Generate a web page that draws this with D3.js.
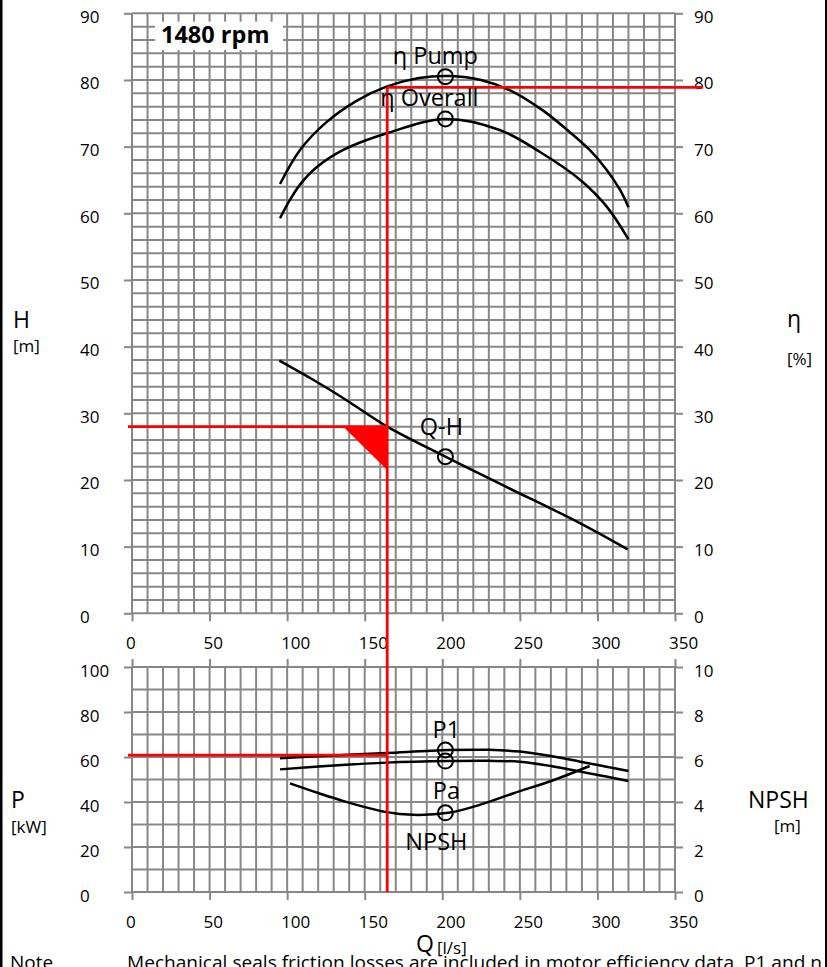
<!DOCTYPE html>
<html>
<head>
<meta charset="utf-8">
<script src="https://cdn.jsdelivr.net/npm/d3@7"></script>
<style>
  body { margin: 0; background: #fff; }
  svg { display: block; font-family: "Open Sans", sans-serif; }
</style>
</head>
<body>
<div id="chart"></div>
<script>
// Pump curves, flow Q in l/s
const qhCurve = [[95, 37.9], [117, 35.0], [127, 33.6], [140, 31.7], [164.5, 28.0], [202, 23.5], [240, 19.1], [289, 13.5], [319.5, 9.6]];
const etaPump = [[95.4, 64.4], [108.3, 69.5], [125, 73.6], [145, 76.9], [164, 79.0], [185, 80.3], [205, 80.6], [225, 80.0], [245, 78.3], [265, 75.4], [280, 72.6], [295, 69.5], [306, 66.5], [314.6, 63.5], [320, 60.9]];
const etaOverall = [[95.4, 59.25], [101.8, 62.0], [108.3, 64.3], [119, 66.9], [136.2, 69.5], [164.2, 72.0], [202, 74.15], [237, 72.5], [263, 69.2], [289, 65.0], [306, 61.0], [320, 56.1]];
const p1Curve = [[95.4, 59.4], [130, 60.7], [164, 61.8], [204, 63.1], [230, 63.2], [250, 62.4], [270, 60.4], [289, 57.9], [305, 55.8], [320, 53.8]];
const paCurve = [[95.4, 54.5], [130, 56.2], [164, 57.5], [204, 58.2], [230, 58.3], [250, 57.9], [270, 56.0], [289, 53.5], [305, 51.4], [320, 49.3]];
const npshCurve = [[101.8, 4.83], [120, 4.4], [134, 4.09], [164, 3.55], [181, 3.43], [204, 3.52], [224, 3.87], [246, 4.39], [272, 4.98], [295, 5.6]];

// best efficiency point markers
const markerQ = 202;
const markerLabels = ["η Pump", "η Overall", "Q-H", "P1", "Pa", "NPSH"];
const markerValues = [80.5, 74.15, 23.5, 63.1, 58.2, 3.52];

// duty point (red lines)
const dutyQ = 164.5, dutyH = 28, dutyEta = 78.9, dutyP = 60.8;
const dutyTriangle = [[136.2, 28], [164.5, 28], [164.5, 21.5]];

// tick labels
const qTicks = [0, 50, 100, 150, 200, 250, 300, 350];
const hTicks = [0, 10, 20, 30, 40, 50, 60, 70, 80, 90];
const pTicks = [0, 20, 40, 60, 80, 100];
const npshTicks = [0, 2, 4, 6, 8, 10];

const width = 827, height = 967;
const gridColor = "#878787";

const svg = d3.select("#chart").append("svg")
  .attr("width", width)
  .attr("height", height);

svg.append("rect").attr("width", width).attr("height", height).attr("fill", "#fff");

// scales
const x = d3.scaleLinear().domain([0, 350]).range([132, 675]);
const yH = d3.scaleLinear().domain([0, 90]).range([613.3, 13.3]);
const yP = d3.scaleLinear().domain([0, 100]).range([892, 667]);
const yN = d3.scaleLinear().domain([0, 10]).range([892, 667]);

// grid for one panel
function drawGrid(yScale, step) {
  const [y0, y1] = yScale.domain();
  const g = svg.append("g").attr("stroke", gridColor).attr("stroke-width", 2);
  g.selectAll(".v").data(d3.range(0, 351, 10)).join("line")
    .attr("x1", d => x(d)).attr("x2", d => x(d))
    .attr("y1", yScale(y0)).attr("y2", yScale(y1));
  g.selectAll(".h").data(d3.range(y0, y1 + 0.001, step)).join("line")
    .attr("x1", x(0)).attr("x2", x(350))
    .attr("y1", d => yScale(d)).attr("y2", d => yScale(d));
}
drawGrid(yH, 2);
drawGrid(yP, 10);

function styleAxis(g) {
  g.select(".domain").remove();
  g.attr("font-family", null).attr("font-size", 17);
  g.selectAll("line").attr("stroke", gridColor).attr("stroke-width", 2);
  g.selectAll("text").attr("fill", "#000");
}

function leftAxis(scale, ticks) {
  svg.append("g").attr("transform", `translate(${x(0)},0)`)
    .call(d3.axisLeft(scale).tickValues(ticks).tickSize(8).tickSizeOuter(0))
    .call(styleAxis)
    .call(g => g.selectAll("text").attr("x", 80 - x(0)).attr("dy", null).attr("y", 9).attr("text-anchor", "start"));
}
function rightAxis(scale, ticks) {
  svg.append("g").attr("transform", `translate(${x(350)},0)`)
    .call(d3.axisRight(scale).tickValues(ticks).tickSize(8).tickSizeOuter(0))
    .call(styleAxis)
    .call(g => g.selectAll("text").attr("x", 19).attr("dy", null).attr("y", 9).attr("text-anchor", "start"));
}
function bottomAxis(yPos) {
  svg.append("g").attr("transform", `translate(0,${yPos})`)
    .call(d3.axisBottom(x).tickValues(qTicks).tickSize(8).tickSizeOuter(0))
    .call(styleAxis)
    .call(g => g.selectAll("text").attr("x", -6.5).attr("dy", null).attr("y", 36).attr("text-anchor", "start"));
}

leftAxis(yH, hTicks);
rightAxis(yH, hTicks);
bottomAxis(yH(0));
leftAxis(yP, pTicks);
rightAxis(yN, npshTicks);
bottomAxis(yP(0));

// little stubs above the lower panel
svg.append("g").attr("transform", `translate(0,${yP(100)})`)
  .call(d3.axisTop(x).tickValues(qTicks).tickSize(8).tickSizeOuter(0).tickFormat(""))
  .call(styleAxis);

// curves
const smooth = d3.curveCatmullRom.alpha(0.5);
const lineH = d3.line().x(d => x(d[0])).y(d => yH(d[1])).curve(smooth);
const lineP = d3.line().x(d => x(d[0])).y(d => yP(d[1])).curve(smooth);
const lineN = d3.line().x(d => x(d[0])).y(d => yN(d[1])).curve(smooth);

const curves = svg.append("g").attr("fill", "none").attr("stroke", "#000").attr("stroke-width", 2.5);
curves.append("path").attr("d", lineH(qhCurve));
curves.append("path").attr("d", lineH(etaPump));
curves.append("path").attr("d", lineH(etaOverall));
curves.append("path").attr("d", lineP(p1Curve));
curves.append("path").attr("d", lineP(paCurve));
curves.append("path").attr("d", lineN(npshCurve));

// duty point lines
const red = svg.append("g").attr("stroke", "#ff0000").attr("stroke-width", 2.8);
red.append("line")
  .attr("x1", x(dutyQ)).attr("x2", x(dutyQ))
  .attr("y1", yH(dutyEta)).attr("y2", yP(0));
red.append("line")
  .attr("x1", x(dutyQ)).attr("x2", x(368))
  .attr("y1", yH(dutyEta)).attr("y2", yH(dutyEta));
red.append("line")
  .attr("x1", x(-2.6)).attr("x2", x(dutyQ))
  .attr("y1", yH(dutyH)).attr("y2", yH(dutyH));
red.append("line")
  .attr("x1", x(-2.6)).attr("x2", x(dutyQ))
  .attr("y1", yP(dutyP)).attr("y2", yP(dutyP));
svg.append("path")
  .attr("d", d3.line().x(d => x(d[0])).y(d => yH(d[1]))(dutyTriangle) + "Z")
  .attr("fill", "#ff0000");

// markers and their labels
const markerScales = [yH, yH, yH, yP, yP, yN];
const labelOffsets = [[-10, -13], [-16, -13], [-4, -22], [1, -12], [1, 38], [-9, 37]];
const mk = svg.append("g");
markerValues.forEach((v, i) => {
  const cx = x(markerQ), cy = markerScales[i](v);
  mk.append("circle").attr("cx", cx).attr("cy", cy).attr("r", 7.5)
    .attr("fill", "none").attr("stroke", "#000").attr("stroke-width", 2);
  mk.append("text")
    .attr("x", cx + labelOffsets[i][0])
    .attr("y", cy + labelOffsets[i][1])
    .attr("text-anchor", "middle")
    .attr("font-size", 23.5)
    .text(markerLabels[i]);
});

// speed box
svg.append("rect").attr("x", 155).attr("y", 21.7).attr("width", 128).attr("height", 28.3).attr("fill", "#fff");
svg.append("text").attr("x", 161).attr("y", 42.7)
  .attr("font-size", 23.5).attr("font-weight", "bold")
  .text("1480 rpm");

// axis titles
const titles = [
  { t: "H", x: 13, y: 328, s: 23 },
  { t: "[m]", x: 13, y: 352, s: 17 },
  { t: "η", x: 787, y: 327, s: 23 },
  { t: "[%]", x: 787, y: 365, s: 17 },
  { t: "P", x: 11, y: 808, s: 23 },
  { t: "[kW]", x: 11, y: 833, s: 17 },
  { t: "NPSH", x: 748, y: 808, s: 23 },
  { t: "[m]", x: 774, y: 832, s: 17 },
  { t: "Q", x: 416, y: 952, s: 23 },
  { t: "[l/s]", x: 437, y: 954, s: 17 }
];
svg.selectAll(".title").data(titles).join("text")
  .attr("x", d => d.x).attr("y", d => d.y)
  .attr("font-size", d => d.s)
  .text(d => d.t);

// note line, cut off by the bottom edge
svg.append("text").attr("x", 10).attr("y", 969).attr("font-size", 19).text("Note");
svg.append("text").attr("x", 127).attr("y", 969).attr("font-size", 19)
  .attr("textLength", 695).attr("lengthAdjust", "spacingAndGlyphs")
  .text("Mechanical seals friction losses are included in motor efficiency data. P1 and η");

// frame sides
svg.append("rect").attr("x", 0).attr("y", 0).attr("width", 2.5).attr("height", height).attr("fill", "#000");
svg.append("rect").attr("x", 825).attr("y", 0).attr("width", 2).attr("height", height).attr("fill", "#000");
</script>
</body>
</html>
